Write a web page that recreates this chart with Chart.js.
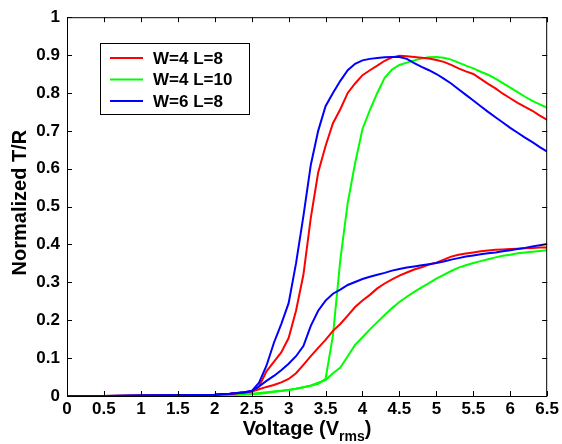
<!DOCTYPE html>
<html>
<head>
<meta charset="utf-8">
<script src="https://cdn.jsdelivr.net/npm/chart.js@4/dist/chart.umd.min.js"></script>
<style>
  html, body { margin: 0; padding: 0; background: #fff; }
</style>
</head>
<body>
<canvas id="chart" width="562" height="444"></canvas>
<script>
// データ
const voltage = [0, 0.5, 1, 1.5,
  2, 2.1, 2.2, 2.3, 2.4, 2.5, 2.6, 2.7, 2.8, 2.9,
  3, 3.1, 3.2, 3.3, 3.4, 3.5, 3.6, 3.7, 3.8, 3.9,
  4, 4.1, 4.2, 4.3, 4.4, 4.5, 4.6, 4.7, 4.8, 4.9,
  5, 5.1, 5.2, 5.3, 5.4, 5.5, 5.6, 5.7, 5.8, 5.9,
  6, 6.1, 6.2, 6.3, 6.4, 6.5];

// W=4 L=8 (赤)
const tRed = [0, 0, 0.001, 0.002,
  0.003, 0.004, 0.005, 0.007, 0.009, 0.012, 0.025, 0.065, 0.09, 0.115,
  0.153, 0.225, 0.32, 0.47, 0.59, 0.66, 0.72, 0.757, 0.80, 0.825,
  0.847, 0.86, 0.872, 0.885, 0.894, 0.898, 0.897, 0.895, 0.893, 0.891,
  0.887, 0.882, 0.874, 0.865, 0.857, 0.85, 0.837, 0.824, 0.812, 0.798,
  0.786, 0.774, 0.763, 0.753, 0.74, 0.729];
const rRed = [0, 0, 0.001, 0.002,
  0.003, 0.004, 0.005, 0.007, 0.009, 0.012, 0.018, 0.024, 0.029, 0.036,
  0.045, 0.06, 0.082, 0.105, 0.127, 0.148, 0.172, 0.19, 0.212, 0.235,
  0.252, 0.267, 0.284, 0.297, 0.308, 0.318, 0.326, 0.334, 0.34, 0.347,
  0.352, 0.36, 0.368, 0.373, 0.376, 0.379, 0.382, 0.384, 0.386, 0.387,
  0.388, 0.389, 0.39, 0.391, 0.392, 0.392];

// W=4 L=10 (緑)
const tGreen = [0, 0, 0, 0.001,
  0.002, 0.002, 0.003, 0.004, 0.005, 0.006, 0.008, 0.01, 0.012, 0.014,
  0.016, 0.019, 0.023, 0.027, 0.032, 0.045, 0.16, 0.36, 0.51, 0.615,
  0.705, 0.755, 0.80, 0.84, 0.862, 0.874, 0.88, 0.886, 0.891, 0.894,
  0.895, 0.893, 0.888, 0.88, 0.872, 0.865, 0.856, 0.848, 0.838, 0.826,
  0.814, 0.802, 0.79, 0.779, 0.77, 0.761];
const rGreen = [0, 0, 0, 0.001,
  0.002, 0.002, 0.003, 0.003, 0.004, 0.005, 0.006, 0.008, 0.011, 0.013,
  0.016, 0.019, 0.023, 0.028, 0.035, 0.042, 0.06, 0.075, 0.105, 0.135,
  0.155, 0.176, 0.195, 0.214, 0.232, 0.248, 0.262, 0.275, 0.287, 0.298,
  0.31, 0.32, 0.33, 0.339, 0.345, 0.351, 0.356, 0.361, 0.366, 0.37,
  0.373, 0.377, 0.379, 0.381, 0.383, 0.385];

// W=6 L=8 (青)
const tBlue = [0, 0, 0.001, 0.002,
  0.003, 0.005, 0.006, 0.008, 0.010, 0.013, 0.035, 0.08, 0.14, 0.19,
  0.245, 0.35, 0.475, 0.61, 0.70, 0.765, 0.80, 0.832, 0.86, 0.877,
  0.886, 0.89, 0.892, 0.894, 0.895, 0.895, 0.89, 0.879, 0.869, 0.86,
  0.85, 0.838, 0.825, 0.81, 0.795, 0.78, 0.765, 0.75, 0.736, 0.722,
  0.708, 0.695, 0.682, 0.67, 0.657, 0.645];
const rBlue = [0, 0, 0.001, 0.002,
  0.003, 0.005, 0.006, 0.008, 0.010, 0.013, 0.025, 0.04, 0.053, 0.068,
  0.085, 0.105, 0.132, 0.185, 0.225, 0.252, 0.27, 0.281, 0.293, 0.301,
  0.309, 0.315, 0.32, 0.325, 0.331, 0.335, 0.339, 0.342, 0.345, 0.348,
  0.351, 0.355, 0.36, 0.364, 0.368, 0.371, 0.374, 0.377, 0.379, 0.382,
  0.385, 0.388, 0.391, 0.395, 0.398, 0.401];

const legendLabels = ["W=4 L=8", "W=4 L=10", "W=6 L=8"];
const xTicks = [0, 0.5, 1, 1.5, 2, 2.5, 3, 3.5, 4, 4.5, 5, 5.5, 6, 6.5];
const yTicks = [0, 0.1, 0.2, 0.3, 0.4, 0.5, 0.6, 0.7, 0.8, 0.9, 1];

const FONT = "'Liberation Sans', Arial, Helvetica, sans-serif";
const RED = "#ff0000", GREEN = "#00ff00", BLUE = "#0000ff";

function toPoints(arr) {
  return voltage.map((v, i) => ({ x: v, y: arr[i] }));
}

function lineSet(label, arr, color) {
  return {
    label: label,
    data: toPoints(arr),
    borderColor: color,
    backgroundColor: color,
    borderWidth: 2,
    pointRadius: 0,
    tension: 0,
    fill: false
  };
}

// 枠・内向き目盛・凡例・軸ラベル (MATLAB風)
const matlabFrame = {
  id: "matlabFrame",
  afterDatasetsDraw(chart) {
    const ctx = chart.ctx;
    const a = chart.chartArea;
    const xs = chart.scales.x, ys = chart.scales.y;
    ctx.save();
    ctx.strokeStyle = "#000";
    ctx.lineWidth = 1;
    ctx.strokeRect(a.left + 0.5, a.top + 0.5, a.right - a.left - 1, a.bottom - a.top);

    const tl = 5;
    ctx.beginPath();
    xTicks.forEach(v => {
      const px = Math.round(xs.getPixelForValue(v)) + 0.5;
      ctx.moveTo(px, a.bottom); ctx.lineTo(px, a.bottom - tl);
      ctx.moveTo(px, a.top); ctx.lineTo(px, a.top + tl);
    });
    yTicks.forEach(v => {
      const py = Math.round(ys.getPixelForValue(v)) + 0.5;
      ctx.moveTo(a.left, py); ctx.lineTo(a.left + tl, py);
      ctx.moveTo(a.right, py); ctx.lineTo(a.right - tl, py);
    });
    ctx.stroke();

    // 凡例
    const lx = 100, ly = 43, lw = 149, lh = 71;
    ctx.fillStyle = "#fff";
    ctx.fillRect(lx, ly, lw, lh);
    ctx.strokeStyle = "#000";
    ctx.strokeRect(lx + 0.5, ly + 0.5, lw, lh);
    const colors = [RED, GREEN, BLUE];
    ctx.font = "bold 17px " + FONT;
    ctx.textBaseline = "middle";
    ctx.textAlign = "left";
    legendLabels.forEach((t, i) => {
      const y = 58 + i * 21.5;
      ctx.strokeStyle = colors[i];
      ctx.lineWidth = 2;
      ctx.beginPath();
      ctx.moveTo(110, y); ctx.lineTo(143, y);
      ctx.stroke();
      ctx.fillStyle = "#000";
      ctx.fillText(t, 153, y + 1);
    });

    // Y軸ラベル
    ctx.save();
    ctx.translate(20, (a.top + a.bottom) / 2 - 4);
    ctx.rotate(-Math.PI / 2);
    ctx.font = "bold 20px " + FONT;
    ctx.textAlign = "center";
    ctx.textBaseline = "middle";
    ctx.fillStyle = "#000";
    ctx.fillText("Normalized T/R", 0, 0);
    ctx.restore();

    // X軸ラベル (下付き rms)
    const main1 = "Voltage (V", sub = "rms", main2 = ")";
    ctx.fillStyle = "#000";
    ctx.textBaseline = "alphabetic";
    ctx.textAlign = "left";
    ctx.font = "bold 20px " + FONT;
    const w1 = ctx.measureText(main1).width;
    const w3 = ctx.measureText(main2).width;
    ctx.font = "bold 14px " + FONT;
    const w2 = ctx.measureText(sub).width;
    let x0 = (a.left + a.right) / 2 - (w1 + w2 + w3) / 2;
    const base = 435;
    ctx.font = "bold 20px " + FONT;
    ctx.fillText(main1, x0, base);
    ctx.font = "bold 14px " + FONT;
    ctx.fillText(sub, x0 + w1, base + 6);
    ctx.font = "bold 20px " + FONT;
    ctx.fillText(main2, x0 + w1 + w2, base);
    ctx.restore();
  }
};

const fmt = v => String(Number(v.toFixed(1)));

new Chart(document.getElementById("chart"), {
  type: "line",
  data: {
    datasets: [
      lineSet(legendLabels[2], tBlue, BLUE),
      lineSet(legendLabels[2], rBlue, BLUE),
      lineSet(legendLabels[0], tRed, RED),
      lineSet(legendLabels[0], rRed, RED),
      lineSet(legendLabels[1], tGreen, GREEN),
      lineSet(legendLabels[1], rGreen, GREEN)
    ]
  },
  options: {
    responsive: false,
    animation: false,
    layout: { padding: { top: 15, right: 13, left: 0, bottom: 0 } },
    plugins: {
      legend: { display: false },
      tooltip: { enabled: false }
    },
    scales: {
      x: {
        type: "linear",
        min: 0,
        max: 6.5,
        afterFit: s => { s.height = 48; },
        afterBuildTicks: s => { s.ticks = xTicks.map(v => ({ value: v })); },
        grid: { display: false, drawTicks: false },
        border: { display: false },
        ticks: {
          padding: 3,
          color: "#000",
          maxRotation: 0,
          autoSkip: false,
          font: { family: FONT, size: 17, weight: "bold" },
          callback: v => fmt(v)
        }
      },
      y: {
        min: 0,
        max: 1,
        afterFit: s => { s.width = 67; },
        afterBuildTicks: s => { s.ticks = yTicks.map(v => ({ value: v })); },
        grid: { display: false, drawTicks: false },
        border: { display: false },
        ticks: {
          padding: 7,
          color: "#000",
          autoSkip: false,
          font: { family: FONT, size: 17, weight: "bold" },
          callback: v => fmt(v)
        }
      }
    }
  },
  plugins: [matlabFrame]
});
</script>
</body>
</html>
